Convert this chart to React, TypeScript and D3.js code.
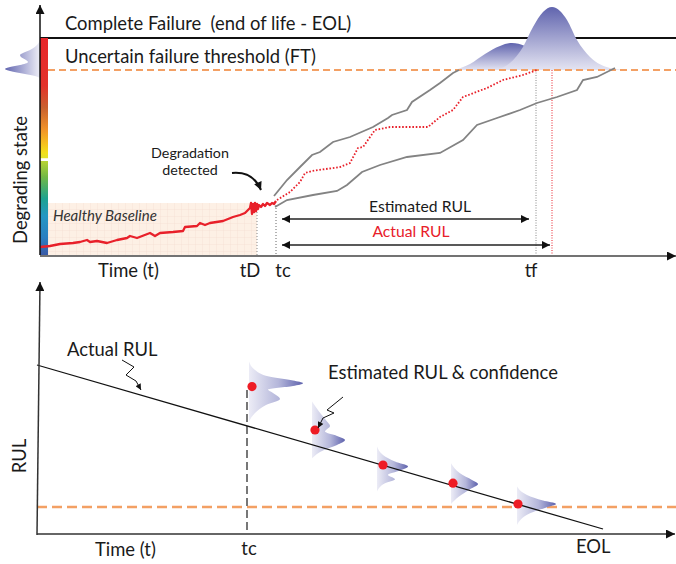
import React, { useEffect } from 'react';
import * as d3 from 'd3';

const W = 676;
const H = 564;

// ---------- TOP PANEL DATA (time units, degrading-state units) ----------
const EOL_STATE = 108.5;
const FT_STATE = 92.5;
const T_D = 21.7;
const T_C = 23.6;
const TF_EST = 49.6;
const TF_ACT = 51.2;
const EST_ARROW_END = 48.9;
const ACT_ARROW_END = 51.0;
const ARROW_START = 24.2;
const EST_ARROW_STATE = 18;
const ACT_ARROW_STATE = 5;
const healthyBoxT = [0.8, 21.7];
const healthyBoxS = [0, 26];

const healthySignal: [number, number][] = [
  [0, 4], [1, 4.5], [2, 5.5], [3.3, 6], [4, 6.5], [4.7, 7.5], [5, 6.5], [5.7, 7], [6.7, 6],
  [7.7, 7.5], [8.7, 8.5], [9, 9.5], [9.7, 8.5], [11, 11], [11.5, 9.5], [12, 11], [13.3, 11.5],
  [14.3, 12], [14.5, 14], [15.7, 14.5], [16, 16], [16.5, 15], [17, 16], [18.3, 17], [19.3, 19],
  [20, 20], [20.5, 21], [21, 23.5], [21.1, 26], [21.2, 20.5], [21.3, 25.5], [21.4, 21.5],
  [21.5, 26], [21.6, 22], [21.7, 25.5], [21.8, 23], [21.9, 25], [22.1, 24], [22.3, 25.5],
  [22.5, 24.5], [22.7, 26], [23, 25], [23.2, 26], [23.4, 25.5], [23.6, 27],
];

const upperBound: [number, number][] = [
  [23.4, 29.5], [24.7, 37.5], [26, 44], [27.2, 50], [28, 51.5], [29.3, 56.5], [31, 59],
  [33.3, 64], [34.8, 68.5], [35.2, 70], [36.7, 72.5], [37.2, 76.5], [39, 82.5], [40, 86],
  [41.3, 91], [41.9, 92.5],
];

const meanPath: [number, number][] = [
  [23.7, 27.5], [25, 31.5], [26, 36.5], [26.5, 41], [27.2, 42], [30, 44], [31, 46], [31.8, 53.5],
  [32.3, 54], [33.5, 62.5], [35, 64], [38.8, 64], [40, 69], [41.3, 72.5], [42.3, 79], [44.7, 83.5],
  [46.3, 87.5], [48.3, 90], [49.7, 92.5],
];

const lowerBound: [number, number][] = [
  [23.5, 24], [24.7, 27.5], [27.3, 30], [29.7, 32], [30.7, 35], [32.2, 41.5], [34, 45],
  [36.7, 49], [40, 51], [42.3, 57.5], [43.7, 65], [45.7, 68.5], [48, 72.5], [49.7, 76],
  [51.7, 79], [53.7, 82.5], [54.3, 87.5], [55.7, 89], [57.5, 93.5],
];

const ftSmallPdf: [number, number][] = [
  [41.5, 92.5], [43, 95.5], [44.5, 100.5], [46, 104.5], [47.2, 106], [48.5, 104.5],
  [50, 99.5], [52, 95], [54, 92.5],
];
const ftLargePdf: [number, number][] = [
  [45.5, 92.5], [47, 96], [48.3, 104], [49.3, 114], [50.3, 121.5], [51.2, 124], [52, 122],
  [52.7, 117.5], [53.7, 107.5], [55, 99], [57, 93.5], [58.5, 92.5],
];
// [state, width in time units to the left of the axis]
const thresholdPdf: [number, number][] = [
  [107.5, 0], [105, 0.3], [102.5, 1.0], [101, 1.7], [100, 2.0], [99, 1.9], [97.5, 1.4],
  [96.5, 1.2], [95, 2.0], [94, 3.0], [93, 3.5], [92, 3.0], [90.5, 1.5], [89.5, 0.5], [88.5, 0],
];

// ---------- BOTTOM PANEL DATA (time units, RUL units) ----------
const rulActual: [number, number][] = [[0, 84.5], [56.6, 2.5]];
const RUL_THRESHOLD = 13.5;
const TC_BOTTOM = 21.0;
const TC_LINE_TOP = 72;
const estBase = [21.2, 27.5, 34.0, 41.4, 48.0];
const estPoint: [number, number][] = [[21.5, 73.7], [27.8, 52], [34.6, 34.5], [41.6, 25.4], [48.1, 15]];
const estPdf1: [number, number][] = [
  [86.2, 0], [82, 0.6], [78.7, 2.0], [76.7, 4.4], [75.4, 5.4], [74, 4.4], [72.2, 1.9],
  [70.5, 2.4], [67.5, 3.1], [64.5, 1.7], [60.5, 0.6], [56.2, 0],
];
const estPdf2: [number, number][] = [
  [66.2, 0], [61.2, 0.7], [56.2, 1.5], [54, 1.8], [51.2, 1.3], [49, 2.5], [47, 3.3],
  [44.5, 2.5], [42, 1.2], [37.9, 0],
];
const estPdf3: [number, number][] = [
  [43.7, 0], [39.5, 0.6], [36.2, 1.8], [33.7, 3.1], [31.7, 2.3], [29.5, 1.1], [27.4, 1.8],
  [25.4, 0.8], [21.2, 0],
];
const estPdf4: [number, number][] = [
  [35.4, 0], [30.4, 0.9], [27, 2.1], [25, 2.7], [22.4, 1.9], [18.7, 0.8], [15, 0],
];
const estPdf5: [number, number][] = [
  [23.7, 0], [19.5, 1.0], [16.7, 2.6], [15, 3.9], [13.4, 3.0], [10.4, 1.3], [4.5, 0],
];
const estPdfs = [estPdf1, estPdf2, estPdf3, estPdf4, estPdf5];

// color bar stops (offset, color)
const barStops: [number, string][] = [
  [0, '#e8262a'], [0.22, '#e3322a'], [0.32, '#c9602e'], [0.42, '#f0922a'], [0.49, '#f6c21e'],
  [0.53, '#f2e01a'], [0.553, '#e2e22a'], [0.556, '#ffffff'], [0.566, '#ffffff'], [0.569, '#b6d334'],
  [0.64, '#72b845'], [0.74, '#1ea38f'], [0.82, '#2497c3'], [0.92, '#2b7fc2'], [1, '#3a5aa6'],
];

const FONT = "Lato, 'Open Sans', sans-serif";
const BIG = 18.4;
const MID = 15.7;

export default function App() {
  useEffect(() => {
    document.body.style.margin = '0';
  }, []);

  const xT = d3.scaleLinear().domain([0, 63]).range([40, 670]);
  const yT = d3.scaleLinear().domain([0, 110]).range([255, 35]);
  const xB = d3.scaleLinear().domain([0, 63.5]).range([37, 672]);
  const yB = d3.scaleLinear().domain([0, 122]).range([534, 290]);

  const lineT = d3.line<[number, number]>().x((d) => xT(d[0])).y((d) => yT(d[1]));
  const lineB = d3.line<[number, number]>().x((d) => xB(d[0])).y((d) => yB(d[1]));
  const pdfTop = d3
    .area<[number, number]>()
    .x((d) => xT(d[0]))
    .y0(yT(FT_STATE))
    .y1((d) => yT(d[1]))
    .curve(d3.curveMonotoneX);
  const pdfLeft = d3
    .area<[number, number]>()
    .y((d) => yT(d[0]))
    .x0(xT(0))
    .x1((d) => xT(-d[1]))
    .curve(d3.curveMonotoneY);

  const txt = { fontFamily: FONT, fill: '#1a1a1a' } as const;

  return (
    <svg width={W} height={H} style={{ position: 'absolute', left: 0, top: 0, background: '#fff' }}>
      <defs>
        <marker id="ah" viewBox="0 0 10 10" refX="10" refY="5" markerWidth="9" markerHeight="8"
          markerUnits="userSpaceOnUse" orient="auto-start-reverse">
          <path d="M0,0L10,5L0,10z" fill="#111" />
        </marker>
        <marker id="ahSmall" viewBox="0 0 10 10" refX="10" refY="5" markerWidth="7" markerHeight="6"
          markerUnits="userSpaceOnUse" orient="auto">
          <path d="M0,0L10,5L0,10z" fill="#111" />
        </marker>
        <marker id="ahAxis" viewBox="0 0 10 10" refX="10" refY="5" markerWidth="10" markerHeight="9"
          markerUnits="userSpaceOnUse" orient="auto">
          <path d="M0,0L10,5L0,10z" fill="#111" />
        </marker>
        <linearGradient id="bar" x1="0" y1="0" x2="0" y2="1">
          {barStops.map(([o, c], i) => (
            <stop key={i} offset={o} stopColor={c} />
          ))}
        </linearGradient>
        <linearGradient id="pdfV" x1="0" y1="0" x2="0" y2="1">
          <stop offset="0" stopColor="#6064ae" />
          <stop offset="1" stopColor="#e4e4f2" />
        </linearGradient>
        <linearGradient id="pdfH" x1="0" y1="0" x2="1" y2="0">
          <stop offset="0" stopColor="#ececf6" />
          <stop offset="0.55" stopColor="#b4b6da" />
          <stop offset="1" stopColor="#5e62ad" />
        </linearGradient>
        <linearGradient id="pdfHrev" x1="1" y1="0" x2="0" y2="0">
          <stop offset="0" stopColor="#eeeef7" />
          <stop offset="1" stopColor="#6266b0" />
        </linearGradient>
        <pattern id="grid" width="7" height="7" patternUnits="userSpaceOnUse">
          <rect width="7" height="7" fill="#fdf0e5" />
          <path d="M7,0V7M0,7H7" stroke="#f3dccb" strokeWidth="0.6" />
        </pattern>
      </defs>

      {/* ================= TOP PANEL ================= */}
      <rect x={xT(healthyBoxT[0])} y={yT(healthyBoxS[1])} width={xT(healthyBoxT[1]) - xT(healthyBoxT[0])}
        height={yT(healthyBoxS[0]) - yT(healthyBoxS[1])} fill="url(#grid)" />
      <text x={53} y={221} style={{ ...txt, fill: '#333' }} fontSize={15} fontStyle="italic">Healthy Baseline</text>

      {/* EOL line */}
      <line x1={xT(0)} x2={676} y1={yT(EOL_STATE)} y2={yT(EOL_STATE)} stroke="#111" strokeWidth={2.2} />

      {/* pdfs at threshold */}
      <path d={pdfTop(ftSmallPdf) || ''} fill="url(#pdfV)" />
      <path d={pdfTop(ftLargePdf) || ''} fill="url(#pdfV)" />
      <path d={pdfLeft(thresholdPdf) || ''} fill="url(#pdfHrev)" />

      {/* FT dashed */}
      <line x1={xT(0.8)} x2={676} y1={yT(FT_STATE)} y2={yT(FT_STATE)} stroke="#f3a064" strokeWidth={2}
        strokeDasharray="7,4" />

      {/* color bar */}
      <rect x={xT(0)} y={yT(EOL_STATE)} width={xT(0.8) - xT(0)} height={yT(0) - yT(EOL_STATE)} fill="url(#bar)" />

      {/* vertical dotted markers */}
      <line x1={xT(T_D)} x2={xT(T_D)} y1={yT(26)} y2={yT(0)} stroke="#888" strokeWidth={1} strokeDasharray="1,2" />
      <line x1={xT(T_C)} x2={xT(T_C)} y1={yT(25)} y2={yT(0)} stroke="#666" strokeWidth={1} strokeDasharray="1,2" />
      <line x1={xT(TF_EST)} x2={xT(TF_EST)} y1={yT(FT_STATE)} y2={yT(0)} stroke="#888" strokeWidth={1} strokeDasharray="1,1.5" />
      <line x1={xT(TF_ACT)} x2={xT(TF_ACT)} y1={yT(FT_STATE)} y2={yT(0)} stroke="#e8202a" strokeWidth={1} strokeDasharray="1,1.5" />

      {/* degradation curves */}
      <path d={lineT(healthySignal) || ''} fill="none" stroke="#e8202a" strokeWidth={2.3} strokeLinejoin="round" />
      <path d={lineT(upperBound) || ''} fill="none" stroke="#838383" strokeWidth={1.8} />
      <path d={lineT(lowerBound) || ''} fill="none" stroke="#838383" strokeWidth={1.8} />
      <path d={lineT(meanPath) || ''} fill="none" stroke="#e8202a" strokeWidth={1.8} strokeDasharray="1.6,1.8" />

      {/* RUL arrows */}
      <line x1={xT(ARROW_START)} x2={xT(EST_ARROW_END)} y1={yT(EST_ARROW_STATE)} y2={yT(EST_ARROW_STATE)}
        stroke="#222" strokeWidth={1.5} markerStart="url(#ah)" markerEnd="url(#ah)" />
      <line x1={xT(ARROW_START)} x2={xT(ACT_ARROW_END)} y1={yT(ACT_ARROW_STATE)} y2={yT(ACT_ARROW_STATE)}
        stroke="#222" strokeWidth={1.5} markerStart="url(#ah)" markerEnd="url(#ah)" />
      <text x={420} y={212} textAnchor="middle" style={txt} fontSize={MID}>Estimated RUL</text>
      <text x={411} y={237} textAnchor="middle" style={{ ...txt, fill: '#e8202a' }} fontSize={MID}>Actual RUL</text>

      {/* degradation detected */}
      <text x={190} y={158} textAnchor="middle" style={txt} fontSize={14.3}>Degradation</text>
      <text x={190} y={175} textAnchor="middle" style={txt} fontSize={14.3}>detected</text>
      <path d="M232,173 Q253,171 261,190" fill="none" stroke="#111" strokeWidth={2} markerEnd="url(#ah)" />

      {/* axes */}
      <line x1={xT(0)} x2={xT(0)} y1={yT(0)} y2={5} stroke="#111" strokeWidth={1.5} markerEnd="url(#ahAxis)" />
      <line x1={xT(0)} x2={676} y1={256} y2={256} stroke="#444" strokeWidth={1.6} markerEnd="url(#ahAxis)" />

      {/* top labels */}
      <text x={65} y={30} xmlSpace="preserve" style={{ ...txt, whiteSpace: 'pre' }} fontSize={BIG}>Complete Failure  (end of life - EOL)</text>
      <text x={65} y={63} style={txt} fontSize={BIG}>Uncertain failure threshold (FT)</text>
      <text transform="translate(27,180) rotate(-90)" textAnchor="middle" style={txt} fontSize={BIG}>Degrading state</text>
      <text x={98} y={277} style={txt} fontSize={BIG}>Time (t)</text>
      <text x={xT(T_D) - 7} y={277} textAnchor="middle" style={txt} fontSize={BIG}>tD</text>
      <text x={xT(T_C) + 7} y={277} textAnchor="middle" style={txt} fontSize={BIG}>tc</text>
      <text x={xT(TF_EST) - 5} y={277} textAnchor="middle" style={txt} fontSize={BIG}>tf</text>

      {/* ================= BOTTOM PANEL ================= */}
      <line x1={xB(0)} x2={676} y1={yB(RUL_THRESHOLD)} y2={yB(RUL_THRESHOLD)} stroke="#f3a064" strokeWidth={2.4}
        strokeDasharray="10,5" />
      <line x1={xB(TC_BOTTOM)} x2={xB(TC_BOTTOM)} y1={yB(TC_LINE_TOP)} y2={yB(0)} stroke="#777" strokeWidth={2}
        strokeDasharray="8,4" />

      {estPdfs.map((pdf, i) => {
        const area = d3
          .area<[number, number]>()
          .y((d) => yB(d[0]))
          .x0(xB(estBase[i]))
          .x1((d) => xB(estBase[i] + d[1]))
          .curve(d3.curveMonotoneY);
        return <path key={i} d={area(pdf) || ''} fill="url(#pdfH)" />;
      })}

      <path d={lineB(rulActual) || ''} fill="none" stroke="#111" strokeWidth={1.3} />

      {estPoint.map((p, i) => (
        <circle key={i} cx={xB(p[0])} cy={yB(p[1])} r={4.6} fill="#ee1c25" />
      ))}

      {/* squiggle arrows */}
      <path d="M122,360 L134,367 L126,375 L136,381 L141,390" fill="none" stroke="#111" strokeWidth={1}
        markerEnd="url(#ahSmall)" />
      <path d="M343,397 L327,410 L334,413 L323,418 L318,428" fill="none" stroke="#111" strokeWidth={1}
        markerEnd="url(#ahSmall)" />

      {/* axes */}
      <line x1={37} y1={535} x2={40} y2={282} stroke="#333" strokeWidth={1.5} markerEnd="url(#ahAxis)" />
      <line x1={37} y1={534} x2={675} y2={534} stroke="#333" strokeWidth={1.5} markerEnd="url(#ahAxis)" />

      {/* bottom labels */}
      <text x={67} y={356} style={txt} fontSize={BIG}>Actual RUL</text>
      <text x={328} y={379} style={txt} fontSize={BIG}>Estimated RUL &amp; confidence</text>
      <text transform="translate(26,456) rotate(-90)" textAnchor="middle" style={txt} fontSize={BIG}>RUL</text>
      <text x={95} y={556} style={txt} fontSize={BIG}>Time (t)</text>
      <text x={xB(TC_BOTTOM) + 2} y={555} textAnchor="middle" style={txt} fontSize={BIG}>tc</text>
      <text x={576} y={553} style={txt} fontSize={BIG}>EOL</text>
    </svg>
  );
}
